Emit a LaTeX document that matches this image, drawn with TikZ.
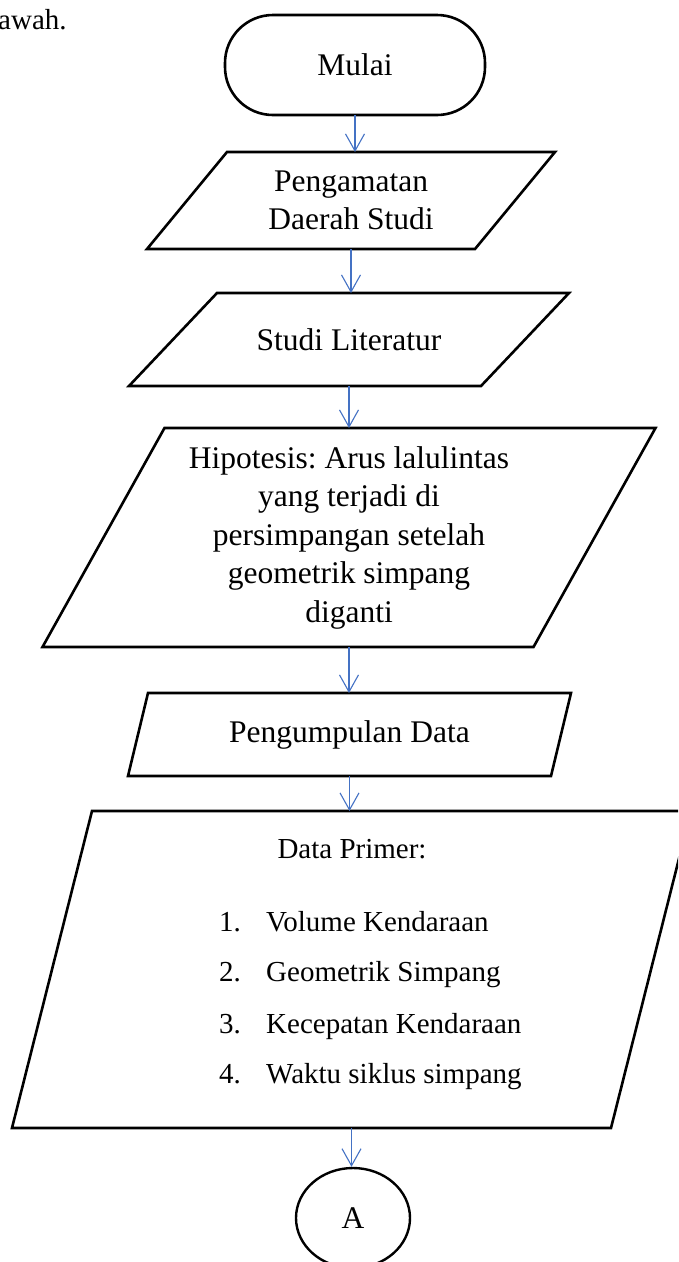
\documentclass[tikz,border=0pt]{standalone}
\usepackage{fontspec}
\setmainfont{Liberation Serif}
\usetikzlibrary{arrows.meta,shapes.geometric}
\definecolor{arrowblue}{HTML}{4472C4}
\frenchspacing

\begin{document}
\begin{tikzpicture}[x=1pt,y=-1pt,
  shapeline/.style={draw=black, line width=2.6pt, line join=miter},
  frame/.style={inner sep=0pt, outer sep=0pt},
  flowtext/.style={font=\fontsize{31.5}{38.5}\selectfont, align=center},
  listtext/.style={font=\fontsize{29}{34}\selectfont, inner sep=0pt, text height=0.68em, text depth=0.2em},
  conn/.style={draw=arrowblue, line width=1.1pt, -{Straight Barb[length=17pt,width=19pt]}},
]
\useasboundingbox (0,0) rectangle (678,1262);
\clip (0,0) rectangle (678,1262);

% fragment of running text
\node[anchor=base west, inner sep=0pt, font=\fontsize{29}{32}\selectfont] (cap) at (-2,29) {awah.};

% start terminal
\node[frame, draw, line width=2.6pt, rounded corners=48pt, minimum width=260pt, minimum height=100pt, flowtext] (start) at (355,65) {Mulai};

% parallelogram 1
\node[frame, minimum width=328pt, minimum height=97pt, flowtext] (p1) at (351,200.5) {Pengamatan\\Daerah Studi};
\draw[shapeline] ([xshift=40pt]p1.north west) -- ([xshift=40pt]p1.north east) -- ([xshift=-40pt]p1.south east) -- ([xshift=-40pt]p1.south west) -- cycle;

% parallelogram 2
\node[frame, minimum width=352pt, minimum height=93pt, flowtext] (p2) at (349,339.5) {Studi Literatur};
\draw[shapeline] ([xshift=44pt]p2.north west) -- ([xshift=44pt]p2.north east) -- ([xshift=-44pt]p2.south east) -- ([xshift=-44pt]p2.south west) -- cycle;

% parallelogram 3
\node[frame, minimum width=491pt, minimum height=219pt, flowtext] (p3) at (349,537.5) {Hipotesis: Arus lalulintas\\yang terjadi di\\persimpangan setelah\\geometrik simpang\\diganti};
\draw[shapeline] ([xshift=61pt]p3.north west) -- ([xshift=61pt]p3.north east) -- ([xshift=-61pt]p3.south east) -- ([xshift=-61pt]p3.south west) -- cycle;

% parallelogram 4
\node[frame, minimum width=423pt, minimum height=83pt, flowtext] (p4) at (349.5,734.5) {Pengumpulan Data};
\draw[shapeline] ([xshift=10pt]p4.north west) -- ([xshift=10pt]p4.north east) -- ([xshift=-10pt]p4.south east) -- ([xshift=-10pt]p4.south west) -- cycle;

% parallelogram 5
\node[frame, minimum width=599pt, minimum height=317pt] (p5) at (351.5,969.5) {};
\draw[shapeline] ([xshift=40pt]p5.north west) -- ([xshift=40pt]p5.north east) -- ([xshift=-40pt]p5.south east) -- ([xshift=-40pt]p5.south west) -- cycle;
\node[listtext] (dp) at (352,856) {Data Primer:};
\node[listtext, anchor=west] (n1) at (219,929) {1.};
\node[listtext, anchor=west] (t1) at (266,929) {Volume Kendaraan};
\node[listtext, anchor=west] (n2) at (219,979) {2.};
\node[listtext, anchor=west] (t2) at (266,979) {Geometrik Simpang};
\node[listtext, anchor=west] (n3) at (219,1031) {3.};
\node[listtext, anchor=west] (t3) at (266,1031) {Kecepatan Kendaraan};
\node[listtext, anchor=west] (n4) at (219,1081) {4.};
\node[listtext, anchor=west] (t4) at (266,1081) {Waktu siklus simpang};

% connector A
\node[draw, ellipse, line width=2.4pt, minimum width=114pt, minimum height=100pt, inner sep=0pt, font=\fontsize{31.5}{38}\selectfont] (a) at (353,1218) {A};

% connectors
\draw[conn] (start.south) -- (start.south |- p1.north);
\draw[conn] (p1.south) -- (p1.south |- p2.north);
\draw[conn] (p2.south) -- (p2.south |- p3.north);
\draw[conn] (p3.south) -- (p3.south |- p4.north);
\draw[conn] (p4.south) -- (p4.south |- p5.north);
\draw[conn] (p5.south) -- (p5.south |- a.north);
\end{tikzpicture}
\end{document}
